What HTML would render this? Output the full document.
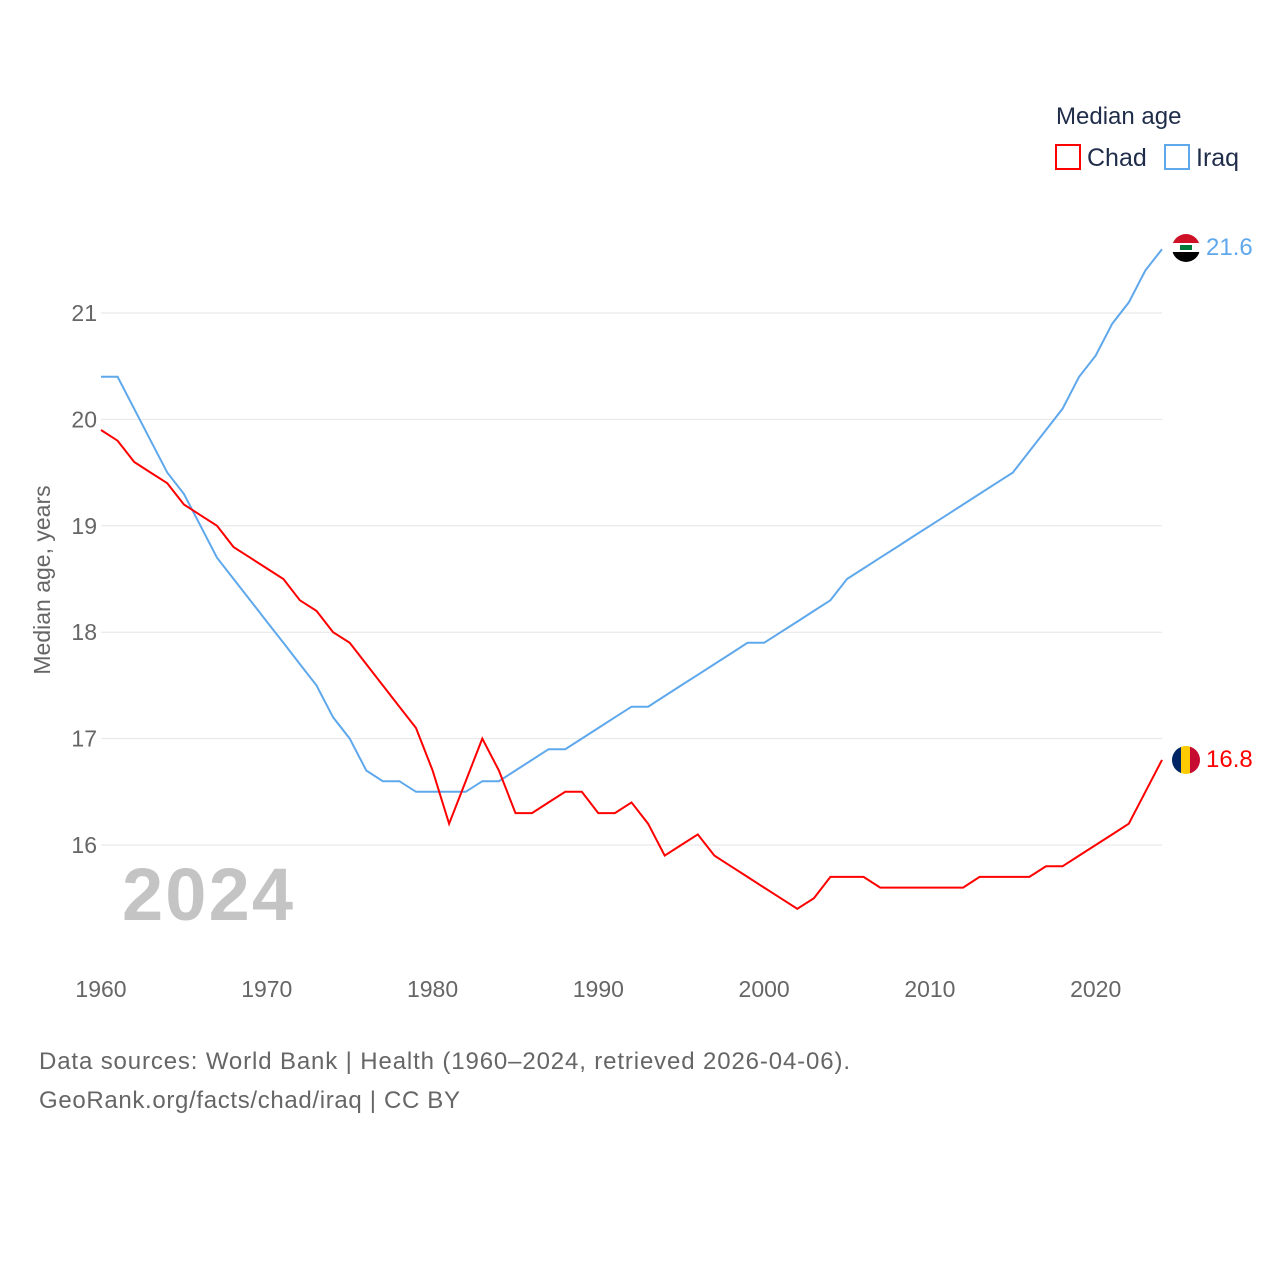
<!DOCTYPE html>
<html><head><meta charset="utf-8"><style>
body{margin:0;background:#fff;font-family:"Liberation Sans",sans-serif;}
svg text{font-family:"Liberation Sans",sans-serif;}
</style></head><body>
<svg id="chart" width="1280" height="1280" xmlns="http://www.w3.org/2000/svg">
<g id="grid"></g>
<g id="yticks"></g>
<g id="xticks"></g>
<text transform="translate(50,580) rotate(-90)" text-anchor="middle" font-size="23" fill="#666">Median age, years</text>
<text x="122" y="920" font-size="74" font-weight="bold" fill="#c4c4c4" textLength="171">2024</text>
<g id="series"></g>
<text x="1056" y="124" font-size="24" fill="#1f2d4a">Median age</text>
<g><rect x="1056" y="145" width="24" height="24" fill="none" stroke="#f00" stroke-width="2"/><text x="1087" y="166" font-size="25" fill="#1f2d4a">Chad</text></g>
<g><rect x="1165" y="145" width="24" height="24" fill="none" stroke="#5fa8ec" stroke-width="2"/><text x="1196" y="166" font-size="25" fill="#1f2d4a">Iraq</text></g>
<g>
<clipPath id="cI"><circle cx="1186" cy="248" r="14"/></clipPath>
<g clip-path="url(#cI)"><rect x="1172" y="234" width="28" height="10" fill="#ce1126"/><rect x="1172" y="243" width="28" height="10" fill="#fff"/><rect x="1172" y="252" width="28" height="10" fill="#000"/><rect x="1180" y="245" width="12" height="5" fill="#007a3d"/></g></g>
<g>
<clipPath id="cC"><circle cx="1186" cy="760" r="14"/></clipPath>
<g clip-path="url(#cC)"><rect x="1172" y="746" width="10" height="28" fill="#002664"/><rect x="1181" y="746" width="10" height="28" fill="#fecb00"/><rect x="1190" y="746" width="10" height="28" fill="#c60c30"/></g></g>
<text x="1206" y="255" font-size="24" fill="#5fa8ec">21.6</text>
<text x="1206" y="767" font-size="24" fill="#f00">16.8</text>
<text x="39" y="1069" font-size="24" fill="#666" textLength="811">Data sources: World Bank | Health (1960–2024, retrieved 2026-04-06).</text>
<text x="39" y="1108" font-size="24" fill="#666" textLength="421">GeoRank.org/facts/chad/iraq | CC BY</text>
</svg>
<script>
const years=[];for(let y=1960;y<=2024;y++)years.push(y);
const chad=[19.9,19.8,19.6,19.5,19.4,19.2,19.1,19.0,18.8,18.7,18.6,18.5,18.3,18.2,18.0,17.9,17.7,17.5,17.3,17.1,16.7,16.2,16.6,17.0,16.7,16.3,16.3,16.4,16.5,16.5,16.3,16.3,16.4,16.2,15.9,16.0,16.1,15.9,15.8,15.7,15.6,15.5,15.4,15.5,15.7,15.7,15.7,15.6,15.6,15.6,15.6,15.6,15.6,15.7,15.7,15.7,15.7,15.8,15.8,15.9,16.0,16.1,16.2,16.5,16.8];
const iraq=[20.4,20.4,20.1,19.8,19.5,19.3,19.0,18.7,18.5,18.3,18.1,17.9,17.7,17.5,17.2,17.0,16.7,16.6,16.6,16.5,16.5,16.5,16.5,16.6,16.6,16.7,16.8,16.9,16.9,17.0,17.1,17.2,17.3,17.3,17.4,17.5,17.6,17.7,17.8,17.9,17.9,18.0,18.1,18.2,18.3,18.5,18.6,18.7,18.8,18.9,19.0,19.1,19.2,19.3,19.4,19.5,19.7,19.9,20.1,20.4,20.6,20.9,21.1,21.4,21.6];
const yTicks=[16,17,18,19,20,21];
const xTicks=[1960,1970,1980,1990,2000,2010,2020];
const NS="http://www.w3.org/2000/svg";
const X=y=>101+(y-1960)*(1162-101)/64;
const Y=v=>845-(v-16)*106.4;
const grid=document.getElementById('grid'),yt=document.getElementById('yticks'),xt=document.getElementById('xticks'),ser=document.getElementById('series');
yTicks.forEach(t=>{
const l=document.createElementNS(NS,'line');


l.setAttribute('x1',101);l.setAttribute('x2',1162);l.setAttribute('y1',Y(t));l.setAttribute('y2',Y(t));l.setAttribute('stroke','#e6e6e6');grid.appendChild(l);
const tx=document.createElementNS(NS,'text');


tx.setAttribute('x',97);tx.setAttribute('y',Y(t)+8);tx.setAttribute('text-anchor','end');tx.setAttribute('font-size','23');tx.setAttribute('fill','#666');tx.textContent=t;yt.appendChild(tx);});
xTicks.forEach(t=>{
const tx=document.createElementNS(NS,'text');


tx.setAttribute('x',X(t));tx.setAttribute('y',997);tx.setAttribute('text-anchor','middle');tx.setAttribute('font-size','23');tx.setAttribute('fill','#666');tx.textContent=t;xt.appendChild(tx);});
function line(d,c,n){const p=document.createElementNS(NS,'path');


p.setAttribute('d',d.map((v,i)=>(i?'L':'M')+X(years[i]).toFixed(1)+','+Y(v).toFixed(1)).join(''));p.setAttribute('fill','none');p.setAttribute('stroke',c);p.setAttribute('stroke-width','2');ser.appendChild(p);}
line(iraq,'#5fa8ec','iraq-line');line(chad,'#f00','chad-line');
</script>
</body></html>
